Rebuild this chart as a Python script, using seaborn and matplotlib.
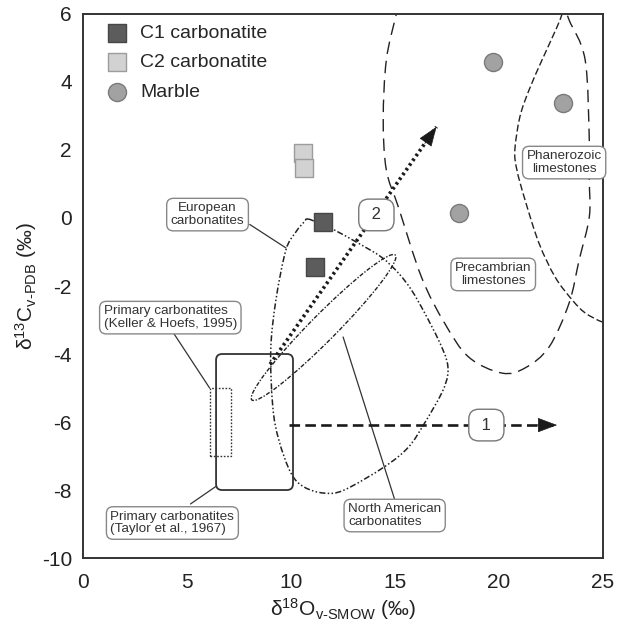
import numpy as np
import pandas as pd
import matplotlib
matplotlib.use("Agg")
import matplotlib.pyplot as plt
import seaborn as sns
from matplotlib.path import Path
from matplotlib.patches import PathPatch, FancyBboxPatch, Rectangle, Circle
from matplotlib.transforms import Affine2D

# ---------------- data ----------------
c1_o18 = [11.55, 11.15]
c1_c13 = [-0.12, -1.44]
c2_o18 = [10.58, 10.63]
c2_c13 = [1.91, 1.47]
marble_o18 = [19.7, 23.1, 18.1]
marble_c13 = [4.59, 3.38, 0.15]

# field outlines (digitised vertices)
precambrian_o18 = [15.17, 15.07, 14.59, 14.44, 14.59, 15.17, 16.28, 17.39, 18.55, 20.14, 21.26,
                   22.42, 23.38, 23.86, 24.35, 24.35, 24.35, 24.15, 23.38, 23.10]
precambrian_c13 = [6.3, 6.0, 4.65, 2.88, 1.41, 0.32, -1.74, -3.09, -4.09, -4.56, -4.41,
                   -3.79, -2.50, -1.24, 0.03, 1.12, 2.29, 4.65, 5.82, 6.3]
phanerozoic_o18 = [23.2, 23.04, 22.80, 22.08, 21.45, 21.01, 20.77, 20.87, 21.26, 21.93, 22.71,
                   23.53, 24.15, 24.98, 25.5]
phanerozoic_c13 = [6.3, 6.0, 5.62, 4.65, 3.76, 2.97, 2.0, 1.41, 0.53, -0.74, -1.74,
                   -2.41, -2.79, -3.06, -3.1]
european_o18 = [10.82, 11.45, 12.08, 13.24, 14.35, 15.17, 15.80, 16.43, 17.10, 17.49, 17.54,
                17.25, 16.43, 15.65, 14.49, 12.56, 11.59, 10.63, 10.0, 9.42, 9.13, 9.03,
                9.28, 9.76, 10.24, 10.63]
european_c13 = [-0.03, -0.18, -0.35, -0.74, -1.15, -1.62, -2.12, -2.79, -3.59, -4.18, -4.62,
                -5.15, -6.03, -6.74, -7.32, -8.0, -8.09, -7.91, -7.5, -6.53, -5.56, -3.88,
                -2.41, -0.94, -0.41, -0.12]
# North American field: ellipse centre and conjugate semi-diameters
na_centre = [11.57, -3.22]
na_semi_a = [3.45, 2.13]
na_semi_b = [0.45, -0.27]
# primary carbonatite boxes (x0, x1, y0, y1)
taylor_box = [6.4, 10.1, -8.0, -4.0]
keller_box = [6.1, 7.1, -7.0, -5.0]
# trend arrows (start, end)
trend1 = [(9.9, -6.09), (22.8, -6.09)]
trend2 = [(9.0, -4.3), (17.0, 2.68)]

x_ticks = [0, 5, 10, 15, 20, 25]
y_ticks = [-10, -8, -6, -4, -2, 0, 2, 4, 6]

# ---------------- style ----------------
sns.set_theme(style="white")
plt.rcParams["font.family"] = ["Liberation Sans", "DejaVu Sans"]
plt.rcParams["axes.unicode_minus"] = False
plt.rcParams["mathtext.fontset"] = "custom"
plt.rcParams["mathtext.rm"] = "Liberation Sans"
plt.rcParams["mathtext.it"] = "Liberation Sans"
plt.rcParams["mathtext.default"] = "regular"

fig = plt.figure(figsize=(6.17, 6.21), dpi=100)
ax = fig.add_axes([0.1345, 0.1014, 0.8425, 0.8761])

DARK = "#333333"

def smooth_path(xs, ys, closed=False):
    P = np.column_stack([xs, ys]).astype(float)
    n = len(P)
    if closed:
        ext = np.vstack([P[-1], P, P[0], P[1]])
        nseg = n
    else:
        ext = np.vstack([P[0], P, P[-1]])
        nseg = n - 1
    verts = [P[0]]
    codes = [Path.MOVETO]
    for i in range(nseg):
        p0, p1, p2, p3 = ext[i], ext[i + 1], ext[i + 2], ext[i + 3]
        verts += [p1 + (p2 - p0) / 6.0, p2 - (p3 - p1) / 6.0, p2]
        codes += [Path.CURVE4] * 3
    return Path(verts, codes)

# fields
ax.add_patch(PathPatch(smooth_path(precambrian_o18, precambrian_c13), fill=False,
                       ec="#222222", lw=1.0, ls=(0, (9, 5)), zorder=2))
ax.add_patch(PathPatch(smooth_path(phanerozoic_o18, phanerozoic_c13), fill=False,
                       ec="#222222", lw=1.0, ls=(0, (5, 2.2)), zorder=2))
ax.add_patch(PathPatch(smooth_path(european_o18, european_c13, closed=True), fill=False,
                       ec="#222222", lw=1.1, ls=(0, (4, 1.5, 1, 1.5, 1, 1.5)), zorder=2))
ell_tr = Affine2D(np.array([[na_semi_a[0], na_semi_b[0], na_centre[0]],
                            [na_semi_a[1], na_semi_b[1], na_centre[1]],
                            [0, 0, 1]]))
ax.add_patch(Circle((0, 0), 1, fill=False, ec="#222222", lw=1.0,
                    ls=(0, (3, 1.2, 1, 1.2)), transform=ell_tr + ax.transData, zorder=2))

tb = taylor_box
ax.add_patch(FancyBboxPatch((tb[0], tb[2]), tb[1] - tb[0], tb[3] - tb[2],
                            boxstyle="round,pad=0,rounding_size=0.29", mutation_aspect=0.61,
                            fill=False, ec="#333333", lw=1.3, zorder=2))
kb = keller_box
ax.add_patch(Rectangle((kb[0], kb[2]), kb[1] - kb[0], kb[3] - kb[2], fill=False,
                       ec="#333333", lw=1.0, ls=(0, (1.2, 1.2)), zorder=2))

# trend arrows: shaft drawn as a line, head as a short solid arrow
head_style = "-|>,head_length=0.85,head_width=0.32"
def trend_arrow(seg, ls, lw, back):
    (x0, y0), (x1, y1) = seg
    ax.plot([x0, x1], [y0, y1], color="#1a1a1a", lw=lw, ls=ls,
            dash_capstyle="butt", zorder=3)
    xb = x1 - back * (x1 - x0)
    yb = y1 - back * (y1 - y0)
    ax.annotate("", xy=(x1, y1), xytext=(xb, yb),
                arrowprops=dict(arrowstyle=head_style, mutation_scale=15, lw=0.5,
                                color="#1a1a1a", shrinkA=0, shrinkB=0), zorder=3)

trend_arrow(trend1, (0, (4, 2)), 1.9, 0.075)
trend_arrow(trend2, (0, (0.7, 0.9)), 2.6, 0.07)

# leader lines
leaders = [((8.02, -0.19), (9.76, -0.88)),
           ((4.35, -3.38), (6.09, -5.0)),
           ((5.17, -8.41), (6.38, -7.9)),
           ((14.98, -8.26), (12.51, -3.5))]
for (p, q) in leaders:
    ax.plot([p[0], q[0]], [p[1], q[1]], color="#333333", lw=0.9, zorder=2.5)

# text labels
box_kw = dict(boxstyle="round,pad=0.3,rounding_size=0.5", fc="white", ec="#888888", lw=1.0)
labels = [
    ("European\ncarbonatites", 5.99, 0.10, "center"),
    ("Primary carbonatites\n(Keller & Hoefs, 1995)", 4.2, -2.93, "left"),
    ("Primary carbonatites\n(Taylor et al., 1967)", 4.3, -8.97, "left"),
    ("North American\ncarbonatites", 14.99, -8.75, "left"),
    ("Precambrian\nlimestones", 19.73, -1.66, "center"),
    ("Phanerozoic\nlimestones", 23.14, 1.63, "center"),
]
for txt, x, y, ma in labels:
    ax.text(x, y, txt, ha="center", va="center", multialignment=ma, fontsize=9.7,
            color="#333333", linespacing=1.05, bbox=box_kw, zorder=4)

num_kw = dict(boxstyle="round,pad=0.5,rounding_size=0.6", fc="white", ec="#777777", lw=1.0)
ax.text(19.4, -6.09, " 1 ", ha="center", va="center", fontsize=12, color="#333333",
        bbox=num_kw, zorder=4)
ax.text(14.11, 0.09, " 2 ", ha="center", va="center", fontsize=12, color="#333333",
        bbox=num_kw, zorder=4)

# samples
df = pd.concat([
    pd.DataFrame({"o18": c1_o18, "c13": c1_c13, "group": "C1 carbonatite"}),
    pd.DataFrame({"o18": c2_o18, "c13": c2_c13, "group": "C2 carbonatite"}),
    pd.DataFrame({"o18": marble_o18, "c13": marble_c13, "group": "Marble"}),
])
styles = {"C1 carbonatite": ("s", "#5c5c5c", "#474747"),
          "C2 carbonatite": ("s", "#d2d2d2", "#9c9c9c"),
          "Marble": ("o", "#a2a2a2", "#7a7a7a")}
for g, (m, fc, ec) in styles.items():
    sns.scatterplot(data=df[df["group"] == g], x="o18", y="c13", marker=m, s=169,
                    color=fc, edgecolor=ec, linewidth=1.0, label=g, ax=ax, zorder=5)

ax.legend(loc="upper left", bbox_to_anchor=(0.024, 0.995), frameon=False, fontsize=14,
          handlelength=1.4, handletextpad=0.5, labelspacing=0.6, borderaxespad=0.2,
          borderpad=0.2, scatterpoints=1)

# axes
ax.set_xlim(0, 25)
ax.set_ylim(-10, 6)
ax.set_xticks(x_ticks)
ax.set_yticks(y_ticks)
ax.set_xticks(np.arange(0, 26, 1), minor=True)
ax.set_yticks(np.arange(-10, 7, 1), minor=True)
ax.set_xticklabels([str(v) for v in x_ticks])
ax.set_yticklabels([str(v) for v in y_ticks])
ax.tick_params(axis="both", which="both", direction="in", colors="#444444",
               labelcolor="#222222", labelsize=15, width=1.0)
ax.tick_params(axis="x", which="major", length=9.4, pad=11)
ax.tick_params(axis="x", which="minor", length=5.8)
ax.tick_params(axis="y", which="both", length=11.5, pad=8)
for s in ax.spines.values():
    s.set_color(DARK)
    s.set_linewidth(1.4)
ax.set_xlabel("δ$^{18}$O$_{v\u2010SMOW}$ (‰)", fontsize=15, color="#222222", labelpad=3)
ax.set_ylabel("δ$^{13}$C$_{v\u2010PDB}$ (‰)", fontsize=15, color="#222222", labelpad=2)
ax.grid(False)

fig.savefig("out.png", dpi=100)
